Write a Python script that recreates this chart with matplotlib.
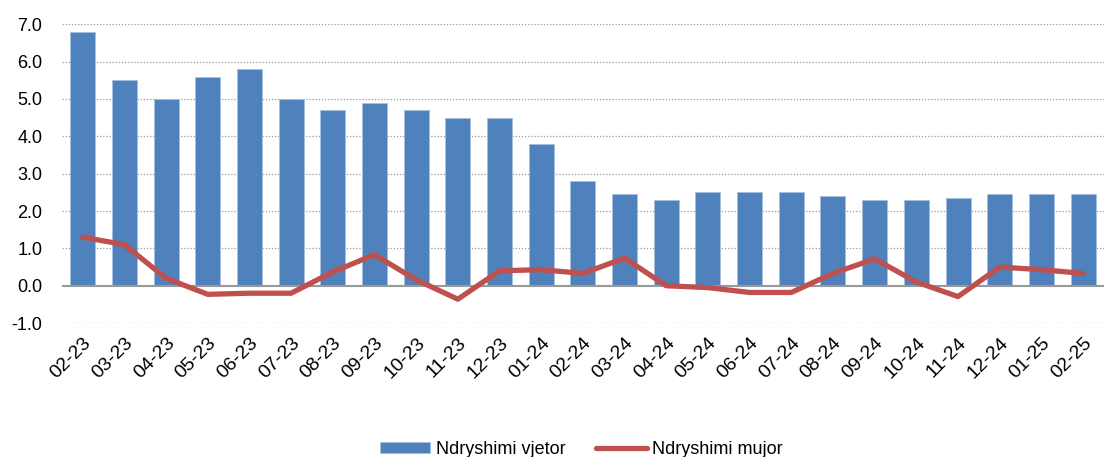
import matplotlib.pyplot as plt
import numpy as np

plt.rcParams['font.family'] = ['Liberation Sans', 'DejaVu Sans']

months = ['02-23', '03-23', '04-23', '05-23', '06-23', '07-23', '08-23', '09-23',
          '10-23', '11-23', '12-23', '01-24', '02-24', '03-24', '04-24', '05-24',
          '06-24', '07-24', '08-24', '09-24', '10-24', '11-24', '12-24', '01-25', '02-25']
vjetor = [6.8, 5.5, 5.0, 5.6, 5.8, 5.0, 4.7, 4.9, 4.7, 4.5, 4.5, 3.8, 2.8,
          2.45, 2.3, 2.5, 2.5, 2.5, 2.4, 2.3, 2.3, 2.35, 2.45, 2.45, 2.45]
mujor = [1.3, 1.1, 0.2, -0.23, -0.2, -0.2, 0.37, 0.83, 0.16, -0.36, 0.4, 0.43, 0.33,
         0.74, 0.0, -0.05, -0.18, -0.18, 0.33, 0.72, 0.1, -0.29, 0.5, 0.43, 0.33]

fig = plt.figure(figsize=(11.05, 4.57), dpi=100)
ax = fig.add_axes([0.056, 0.293, 0.943, 0.654])

x = np.arange(len(months))
bars = ax.bar(x, vjetor, width=0.6, color='#4F81BD', edgecolor='#A7BFDE', linewidth=0.6,
              label='Ndryshimi vjetor', zorder=2)
line, = ax.plot(x, mujor, color='#C0504D', linewidth=3.8, solid_capstyle='round',
                label='Ndryshimi mujor', zorder=3)

ax.set_xlim(-0.5, len(months) - 0.5)
ax.set_ylim(-1, 7)
ax.set_yticks(np.arange(-1, 8, 1))
ax.set_yticklabels([f'{v:.1f}' for v in np.arange(-1, 8, 1)], fontsize=13)
for v in range(-1, 8):
    if v != 0:
        ax.axhline(v, color='#999999', linestyle=(0, (1, 1.5)), linewidth=0.9, zorder=1)
ax.axhline(0, color='#999999', linewidth=1.5, zorder=2.5)

ax.set_xticks(x)
ax.set_xticklabels(months, rotation=45, ha='right', rotation_mode='anchor', fontsize=14)
ax.tick_params(axis='both', length=0)
ax.tick_params(axis='x', pad=8)
ax.tick_params(axis='y', pad=14)
for s in ax.spines.values():
    s.set_visible(False)

fig.legend([bars, line], ['Ndryshimi vjetor', 'Ndryshimi mujor'],
           loc='lower center', bbox_to_anchor=(0.526, -0.037), ncol=2, frameon=False,
           fontsize=13, handlelength=2.8, columnspacing=1.7, handletextpad=0.3,
           handleheight=0.6)

fig.savefig('out.png', dpi=100)
